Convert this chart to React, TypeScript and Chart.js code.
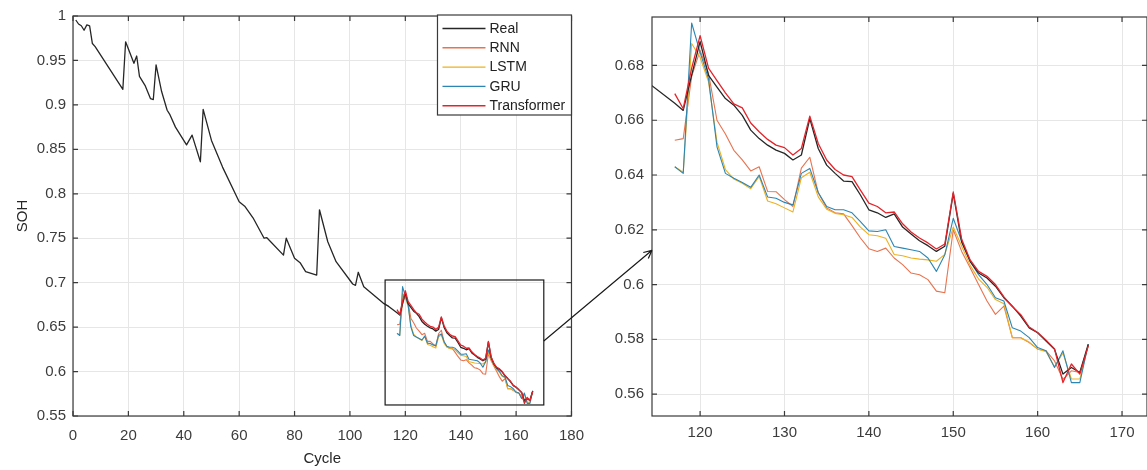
import React, { useEffect, useRef } from "react";
import { Chart, registerables } from "chart.js";
Chart.register(...registerables);

// ---------- data ----------
const seriesNames = ["Real", "RNN", "LSTM", "GRU", "Transformer"];
const seriesColors = ["#262626", "#E8734F", "#EDB120", "#2C86B3", "#E4242B"];

const realCycles = [
  1, 2, 3, 4, 5, 6, 7, 8, 18, 19, 22, 23, 24, 26, 28, 29, 30, 32, 34, 35, 37, 41, 43, 46, 47, 50, 54,
  60, 62, 65, 69, 70, 76, 77, 80, 82, 84, 88, 89, 92, 95, 101, 102, 103, 105, 112, 114,
  117, 118, 119, 120, 121, 122, 123, 124, 125, 126, 127, 128, 129, 130, 131, 132, 133, 134, 135,
  136, 137, 138, 139, 140, 141, 142, 143, 144, 145, 146, 147, 148, 149, 150, 151, 152, 153, 154,
  155, 156, 157, 158, 159, 160, 161, 162, 163, 164, 165, 166,
];
const realSOH = [
  0.9955, 0.991, 0.989, 0.984, 0.99, 0.989, 0.969, 0.9655, 0.9175, 0.971, 0.9468, 0.955, 0.932, 0.922,
  0.907, 0.906, 0.945, 0.915, 0.894, 0.889, 0.875, 0.855, 0.866, 0.836, 0.895, 0.86, 0.83,
  0.791, 0.786, 0.773, 0.75, 0.7506, 0.731, 0.75, 0.7274, 0.7225, 0.7124, 0.7086, 0.782, 0.746,
  0.7236, 0.6985, 0.697, 0.7117, 0.6955, 0.677, 0.6733,
  0.6662, 0.6636, 0.6765, 0.6887, 0.6764, 0.6721, 0.6679, 0.6655, 0.6618, 0.6564, 0.6533, 0.6509,
  0.6491, 0.6479, 0.6455, 0.6473, 0.6606, 0.6497, 0.6436, 0.6406, 0.6378, 0.6376, 0.6327, 0.6273,
  0.6262, 0.6245, 0.6258, 0.621, 0.6185, 0.616, 0.6142, 0.6121, 0.614, 0.6333, 0.6155, 0.6085,
  0.6042, 0.6024, 0.5994, 0.5952, 0.5921, 0.5885, 0.5842, 0.5824, 0.5794, 0.5764, 0.5673, 0.5697,
  0.5679, 0.5782,
];

const predCycles = [
  117, 118, 119, 120, 121, 122, 123, 124, 125, 126, 127, 128, 129, 130, 131, 132, 133, 134, 135, 136,
  137, 138, 139, 140, 141, 142, 143, 144, 145, 146, 147, 148, 149, 150, 151, 152, 153, 154, 155, 156,
  157, 158, 159, 160, 161, 162, 163, 164, 165, 166,
];
const rnnSOH = [
  0.6527, 0.6533, 0.676, 0.6855, 0.677, 0.66, 0.655, 0.649, 0.6455, 0.6415, 0.643, 0.634, 0.6339,
  0.631, 0.6285, 0.6425, 0.6465, 0.6335, 0.628, 0.6262, 0.6258, 0.6215, 0.617, 0.6131, 0.6121,
  0.6133, 0.6097, 0.6073, 0.6042, 0.6036, 0.6018, 0.5976, 0.597, 0.62, 0.6121, 0.6061, 0.6, 0.594,
  0.5891, 0.5921, 0.5806, 0.5806, 0.5788, 0.5764, 0.5758, 0.5721, 0.5654, 0.5685, 0.5679, 0.5776,
];
const lstmSOH = [
  0.643, 0.641, 0.688, 0.683, 0.674, 0.652, 0.642, 0.6385, 0.637, 0.635, 0.6395, 0.6305, 0.6295,
  0.628, 0.6265, 0.639, 0.641, 0.632, 0.6275, 0.626, 0.6255, 0.6245, 0.621, 0.6182, 0.6178, 0.6169,
  0.611, 0.6105, 0.6097, 0.6093, 0.609, 0.6085, 0.611, 0.621, 0.614, 0.607, 0.602, 0.599, 0.5945,
  0.593, 0.5806, 0.5806, 0.579, 0.5765, 0.5755, 0.57, 0.575, 0.5655, 0.5655, 0.578,
];
const gruSOH = [
  0.643, 0.6406, 0.6955, 0.6848, 0.6751, 0.6503, 0.6406, 0.6388, 0.6373, 0.6355, 0.64, 0.632,
  0.6315, 0.63, 0.6291, 0.6406, 0.6424, 0.6336, 0.6285, 0.6273, 0.6273, 0.6262, 0.623, 0.6196,
  0.6194, 0.62, 0.6139, 0.6133, 0.6127, 0.6121, 0.6097, 0.6048, 0.6109, 0.6242, 0.6158, 0.6085,
  0.6036, 0.6, 0.5952, 0.594, 0.5842, 0.583, 0.5806, 0.577, 0.5758, 0.5697, 0.5758, 0.5642, 0.5642,
  0.5782,
];
const transformerSOH = [
  0.6697, 0.6642, 0.679, 0.6909, 0.679, 0.6745, 0.67, 0.666, 0.6645, 0.659, 0.6558, 0.653, 0.6509,
  0.65, 0.6473, 0.6497, 0.6615, 0.6515, 0.6455, 0.642, 0.64, 0.6394, 0.6345, 0.6297, 0.6285, 0.6262,
  0.6265, 0.6222, 0.6192, 0.617, 0.6152, 0.613, 0.6148, 0.6338, 0.6165, 0.609, 0.6048, 0.603, 0.6,
  0.5955, 0.592, 0.589, 0.5845, 0.5825, 0.5797, 0.5765, 0.5642, 0.571, 0.5673, 0.5776,
];

const leftXTicks = [0, 20, 40, 60, 80, 100, 120, 140, 160, 180];
const leftYTicks = [0.55, 0.6, 0.65, 0.7, 0.75, 0.8, 0.85, 0.9, 0.95, 1];
const rightXTicks = [120, 130, 140, 150, 160, 170];
const rightYTicks = [0.56, 0.58, 0.6, 0.62, 0.64, 0.66, 0.68];
const leftXRange = [0, 180];
const leftYRange = [0.55, 1];
const rightXRange = [114.3, 172.96];
const rightYRange = [0.552, 0.6977];
const zoomBoxX = [112.7, 170];
const zoomBoxY = [0.5624, 0.703];
const arrowFrom = [170, 0.6344];
const arrowTo = [114.3, 0.6125];
const xTitle = "Cycle";
const yTitle = "SOH";

// ---------- style ----------
const FONT = "'Liberation Sans', Arial, Helvetica, sans-serif";
const GRID = "#e6e6e6";
const AXIS = "#3a3a3a";
const TICKTXT = "#3c3c3c";

const fmt = (v: number) => String(+Number(v).toFixed(2));

function buildDatasets() {
  const pred = [rnnSOH, lstmSOH, gruSOH, transformerSOH];
  const ds: any[] = [
    {
      label: seriesNames[0],
      data: realCycles.map((c, i) => ({ x: c, y: realSOH[i] })),
      borderColor: seriesColors[0],
      borderWidth: 1.3,
      order: 1,
    },
  ];
  const orders = [4, 3, 2, 0];
  pred.forEach((arr, k) => {
    ds.push({
      label: seriesNames[k + 1],
      data: predCycles.map((c, i) => ({ x: c, y: arr[i] })),
      borderColor: seriesColors[k + 1],
      borderWidth: k === 3 ? 1.3 : 1.1,
      order: orders[k],
    });
  });
  return ds.map((d) => ({ ...d, pointRadius: 0, tension: 0, fill: false }));
}

const boxPlugin = {
  id: "mbox",
  afterDatasetsDraw(chart: any) {
    const { ctx, chartArea: a, scales } = chart;
    ctx.save();
    ctx.strokeStyle = AXIS;
    ctx.lineWidth = 1.2;
    ctx.strokeRect(a.left, a.top, a.right - a.left, a.bottom - a.top);
    const L = 5;
    ctx.beginPath();
    scales.x.ticks.forEach((t: any) => {
      const px = scales.x.getPixelForValue(t.value);
      ctx.moveTo(px, a.bottom);
      ctx.lineTo(px, a.bottom - L);
      ctx.moveTo(px, a.top);
      ctx.lineTo(px, a.top + L);
    });
    scales.y.ticks.forEach((t: any) => {
      const py = scales.y.getPixelForValue(t.value);
      ctx.moveTo(a.left, py);
      ctx.lineTo(a.left + L, py);
      ctx.moveTo(a.right, py);
      ctx.lineTo(a.right - L, py);
    });
    ctx.stroke();
    ctx.restore();
  },
};

const zoomLegendPlugin = {
  id: "zoomLegend",
  afterDatasetsDraw(chart: any) {
    const { ctx, chartArea: a, scales } = chart;
    ctx.save();
    // zoom rectangle
    const x1 = scales.x.getPixelForValue(zoomBoxX[0]);
    const x2 = scales.x.getPixelForValue(zoomBoxX[1]);
    const y1 = scales.y.getPixelForValue(zoomBoxY[1]);
    const y2 = scales.y.getPixelForValue(zoomBoxY[0]);
    ctx.strokeStyle = "#1a1a1a";
    ctx.lineWidth = 1.2;
    ctx.strokeRect(x1, y1, x2 - x1, y2 - y1);
    // legend
    const w = 134;
    const h = 100;
    const lx = a.right - w;
    const ly = a.top - 1;
    ctx.fillStyle = "#fff";
    ctx.fillRect(lx, ly, w, h);
    ctx.strokeStyle = AXIS;
    ctx.lineWidth = 1.2;
    ctx.strokeRect(lx, ly, w, h);
    ctx.font = `14px ${FONT}`;
    ctx.textBaseline = "middle";
    ctx.textAlign = "left";
    seriesNames.forEach((n, i) => {
      const cy = ly + 13.5 + i * 19.3;
      ctx.strokeStyle = seriesColors[i];
      ctx.lineWidth = 1.4;
      ctx.beginPath();
      ctx.moveTo(lx + 5, cy);
      ctx.lineTo(lx + 48, cy);
      ctx.stroke();
      ctx.fillStyle = "#222";
      ctx.fillText(n, lx + 52, cy + 0.5);
    });
    ctx.restore();
  },
};

function axisOpts(
  range: number[],
  ticks: number[],
  horizontal: boolean,
  size: number,
  title: string | null,
  pad: number
) {
  return {
    type: "linear",
    min: range[0],
    max: range[1],
    afterBuildTicks: (s: any) => {
      s.ticks = ticks.map((v) => ({ value: v }));
    },
    afterFit: (s: any) => {
      if (horizontal) s.height = size;
      else s.width = size;
    },
    grid: { color: GRID, lineWidth: 1, drawTicks: false },
    border: { display: false },
    ticks: {
      color: TICKTXT,
      font: { family: FONT, size: 15 },
      padding: pad,
      maxRotation: 0,
      autoSkip: false,
      callback: (v: any) => fmt(v),
    },
    title: title
      ? {
          display: true,
          text: title,
          color: "#262626",
          font: { family: FONT, size: 15 },
          padding: horizontal ? { top: 0, bottom: 2 } : { top: 14, bottom: 0 },
        }
      : { display: false },
  };
}

export default function App() {
  const leftRef = useRef<HTMLCanvasElement>(null);
  const rightRef = useRef<HTMLCanvasElement>(null);
  const ovRef = useRef<HTMLCanvasElement>(null);

  useEffect(() => {
    const common = {
      animation: false,
      responsive: false,
      devicePixelRatio: 1,
      plugins: { legend: { display: false }, tooltip: { enabled: false } },
      elements: { line: { borderJoinStyle: "round" } },
    };
    const left = new Chart(leftRef.current!, {
      type: "line",
      data: { datasets: buildDatasets() },
      options: {
        ...common,
        layout: { padding: { left: 0, top: 15, right: 0, bottom: 0 } },
        scales: {
          x: axisOpts(leftXRange, leftXTicks, true, 54, xTitle, 11),
          y: axisOpts(leftYRange, leftYTicks, false, 73, yTitle, 7),
        },
      } as any,
      plugins: [boxPlugin, zoomLegendPlugin],
    });
    const right = new Chart(rightRef.current!, {
      type: "line",
      data: { datasets: buildDatasets() },
      options: {
        ...common,
        layout: { padding: { left: 0, top: 15, right: 0, bottom: 0 } },
        scales: {
          x: axisOpts(rightXRange, rightXTicks, true, 54, null, 8),
          y: axisOpts(rightYRange, rightYTicks, false, 62, null, 8),
        },
      } as any,
      plugins: [boxPlugin],
    });

    // arrow overlay
    const ov = ovRef.current!;
    const octx = ov.getContext("2d")!;
    octx.clearRect(0, 0, ov.width, ov.height);
    const base = ov.getBoundingClientRect();
    const lb = leftRef.current!.getBoundingClientRect();
    const rb = rightRef.current!.getBoundingClientRect();
    const sx = lb.left - base.left + left.scales.x.getPixelForValue(arrowFrom[0]);
    const sy = lb.top - base.top + left.scales.y.getPixelForValue(arrowFrom[1]);
    const ex = rb.left - base.left + right.scales.x.getPixelForValue(arrowTo[0]);
    const ey = rb.top - base.top + right.scales.y.getPixelForValue(arrowTo[1]);
    octx.strokeStyle = "#1a1a1a";
    octx.lineWidth = 1.2;
    octx.beginPath();
    octx.moveTo(sx, sy);
    octx.lineTo(ex, ey);
    const ang = Math.atan2(ey - sy, ex - sx);
    const hl = 9;
    const spread = 0.45;
    octx.moveTo(ex, ey);
    octx.lineTo(ex - hl * Math.cos(ang - spread), ey - hl * Math.sin(ang - spread));
    octx.moveTo(ex, ey);
    octx.lineTo(ex - hl * Math.cos(ang + spread), ey - hl * Math.sin(ang + spread));
    octx.stroke();

    return () => {
      left.destroy();
      right.destroy();
    };
  }, []);

  return (
    <div
      style={{
        position: "absolute",
        left: 0,
        top: 0,
        width: 1147,
        height: 470,
        background: "#fff",
        overflow: "hidden",
      }}
    >
      <canvas
        ref={rightRef}
        width={557}
        height={470}
        style={{ position: "absolute", left: 590, top: 0 }}
      />
      <canvas
        ref={leftRef}
        width={595}
        height={470}
        style={{ position: "absolute", left: 0, top: 0 }}
      />
      <canvas
        ref={ovRef}
        width={1147}
        height={470}
        style={{ position: "absolute", left: 0, top: 0, pointerEvents: "none" }}
      />
    </div>
  );
}
